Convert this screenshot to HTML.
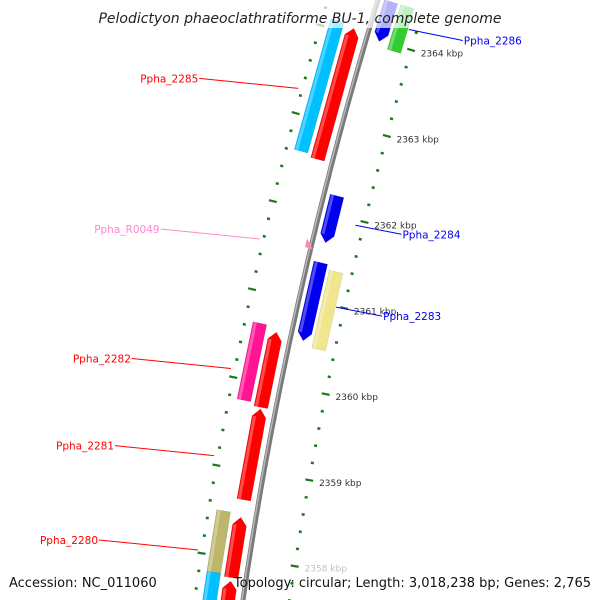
<!DOCTYPE html>
<html><head><meta charset="utf-8"><style>
html,body{margin:0;padding:0;background:#fff;width:600px;height:600px;overflow:hidden}
svg{display:block;font-family:"DejaVu Sans","Liberation Sans",sans-serif}
</style></head><body>
<svg id="map" width="600" height="600" viewBox="0 0 600 600" xmlns="http://www.w3.org/2000/svg" style="overflow:hidden">
<rect width="600" height="600" fill="#fff"/>
<g id="ticks"></g>
<g id="genes"></g>
<g id="labels"></g>
<rect x="0" y="0" width="600" height="28" fill="#fff" opacity="0.7"/>
<text x="300" y="23" text-anchor="middle" font-size="14" font-style="italic" fill="#222">Pelodictyon phaeoclathratiforme BU-1, complete genome</text>
<text x="9" y="587" font-size="13" fill="#111">Accession: NC_011060</text>
<text x="591" y="587" text-anchor="end" font-size="13" fill="#111">Topology: circular; Length: 3,018,238 bp; Genes: 2,765</text>
</svg>
<script>
// gene data (kbp positions)
const geneStart = [2364.20,2364.23,2364.60,2364.60,2362.36,2361.59,2361.53,2360.78,2360.72,2359.84,2358.64,2358.60,2357.94,2357.87];
const geneEnd   = [2362.70,2362.74,2364.14,2364.08,2361.82,2360.69,2360.63,2359.90,2359.86,2358.80,2357.94,2357.91,2357.55,2357.55];
const geneLane  = ["inL","outL","inR","outR","inR","inR","outR","outL","inL","inL","outL","inL","outL","inL"];
const geneColor = ["#ff0000","#00c0ff","#0000ee","#33cc33","#0000ee","#0000ee","#f0e68c","#ff1493","#ff0000","#ff0000","#bdb76b","#ff0000","#00c0ff","#ff0000"];
const geneArrow = ["up","none","down","none","down","down","none","none","up","up","none","up","none","up"];
const tickMajor = [2358,2359,2360,2361,2362,2363,2364];
const tickLabels = ["2358 kbp","2359 kbp","2360 kbp","2361 kbp","2362 kbp","2363 kbp","2364 kbp"];
const labelNames = ["Ppha_2286","Ppha_2285","Ppha_R0049","Ppha_2284","Ppha_2283","Ppha_2282","Ppha_2281","Ppha_2280"];
const labelKbp   = [2364.36,2363.40,2361.69,2362.09,2361.14,2360.22,2359.23,2358.16];
const labelSide  = ["R","L","L","R","R","L","L","L"];
const labelColor = ["#0000ee","#ff0000","#ff88cc","#0000ee","#0000ee","#ff0000","#ff0000","#ff0000"];
const pinkKbp = [2361.82,2361.72];

const NS="http://www.w3.org/2000/svg";
function yScale(k){return 50+(2364-k)*87;}
function bx(y){return 378-0.303*y+0.00013*y*y;}
function normal(y){const d=-0.303+0.00026*y;const n=Math.sqrt(1+d*d);return [1/n,-d/n];}
function pt(k,off){const y=yScale(k);const n=normal(y);return [bx(y)+n[0]*off,y+n[1]*off];}
function mk(tag,attrs,parent){const e=document.createElementNS(NS,tag);for(const a in attrs)e.setAttribute(a,attrs[a]);parent.appendChild(e);return e;}
const gT=document.getElementById('ticks'),gG=document.getElementById('genes'),gL=document.getElementById('labels');

// backbone
let d="";for(let y=-10;y<=610;y+=10){d+=(y==-10?"M":"L")+bx(y).toFixed(1)+","+y;}
const bb1=mk('path',{d:d,stroke:'#7a7a7a','stroke-width':5,fill:'none'},gG);


const bb2=mk('path',{d:d,stroke:'#b8b8b8','stroke-width':1.5,fill:'none',transform:'translate(-1,0)'},gG);



// ticks
function tick(k,off,len,w){const a=pt(k,off-len/2),b=pt(k,off+len/2);
 return mk('line',{x1:a[0],y1:a[1],x2:b[0],y2:b[1],stroke:'#1a7a1a','stroke-width':w},gT);}
for(let i=0;i<=37;i++){const k=2357.2+i*0.2;
 const maj=Math.abs(k-Math.round(k))<0.01;
 const t=tick(k+0.15,46,maj?8:3,maj?2.2:2.5);
 
 
 const t2=tick(k+0.13,-48,maj?8:3,maj?2.2:2.5);
 
 
}
tickMajor.forEach((k,i)=>{const p=pt(k+0.15,56);
 const t=mk('text',{x:p[0],y:p[1]+4,'font-size':9,fill:'#333',opacity:(k==2358?0.3:1)},gT);t.textContent=tickLabels[i];
 
 });

// genes
const lanes={inL:[-22,-8],outL:[-40,-26],inR:[6,20],outR:[23,37]};
geneStart.forEach((s,i)=>{
 const [o1,o2]=lanes[geneLane[i]];const e=geneEnd[i];
 let pts;const ah=0.09;
 if(geneArrow[i]=="up"){const tip=pt(s,(o1+o2)/2);
  pts=[pt(e,o1),pt(s-ah,o1),tip,pt(s-ah,o2),pt(e,o2)];}
 else if(geneArrow[i]=="down"){const tip=pt(e,(o1+o2)/2);
  pts=[pt(s,o1),pt(e+ah,o1),tip,pt(e+ah,o2),pt(s,o2)];}
 else pts=[pt(s,o1),pt(e,o1),pt(e,o2),pt(s,o2)];
 const g=mk('polygon',{points:pts.map(p=>p.join(',')).join(' '),fill:geneColor[i],stroke:'rgba(0,0,0,0.15)','stroke-width':0.5},gG);
 
 
 const a1=s-(geneArrow[i]=="up"?ah:0),a2=e+(geneArrow[i]=="down"?ah:0);
 const hs=[pt(a1,o1+1),pt(a2,o1+1),pt(a2,o1+4),pt(a1,o1+4)];
 const h=mk('polygon',{points:hs.map(p=>p.join(',')).join(' '),fill:'#fff',opacity:0.3},gG);
 
 
});
// pink RNA triangle
{const a=pt(pinkKbp[0],-6),b=pt(pinkKbp[1],-6),c=pt(pinkKbp[1],0);
 const tr=mk('polygon',{points:[a,b,[c[0]+2,c[1]+1]].map(p=>p.join(',')).join(' '),fill:'#ff88bb'},gG);
 
 }

// labels
labelNames.forEach((n,i)=>{
 const k=labelKbp[i];
 if(labelSide[i]=="L"){const p=pt(k,-52);const tx=p[0]-100;const ty=p[1]-10;
  const l=mk('line',{x1:tx+1,y1:ty,x2:p[0],y2:p[1],stroke:labelColor[i],'stroke-width':1},gL);
  
  const t=mk('text',{x:tx,y:ty+4,'text-anchor':'end','font-size':10.5,fill:labelColor[i]},gL);t.textContent=n;
  }
 else {const p=pt(k,38);const tx=p[0]+(i==0?54:46);const ty=p[1]+(i==0?11:9);
  const l=mk('line',{x1:p[0],y1:p[1],x2:tx,y2:ty,stroke:labelColor[i],'stroke-width':1},gL);
  
  const t=mk('text',{x:tx+1,y:ty+4,'font-size':10.5,fill:labelColor[i]},gL);t.textContent=n;
  }
});
</script>
</body></html>
